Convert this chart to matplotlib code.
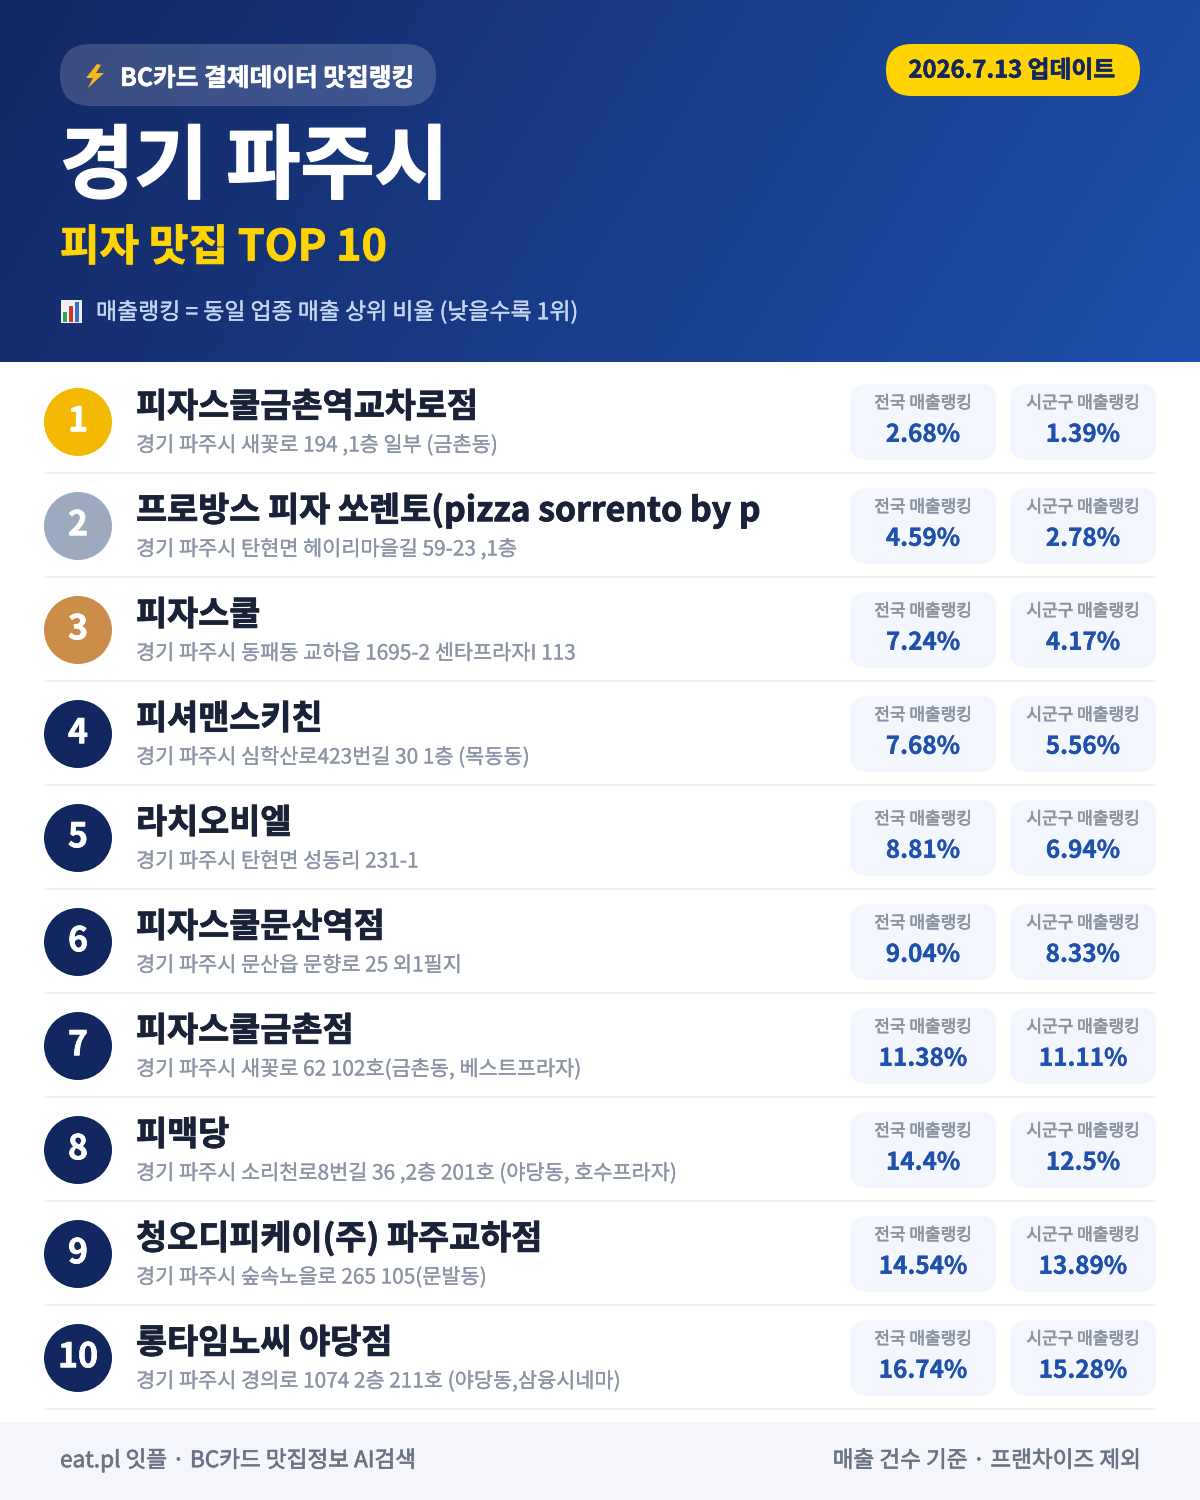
import numpy as np
import matplotlib
matplotlib.use("Agg")
import matplotlib.pyplot as plt
import matplotlib.patheffects as pe
from matplotlib.patches import FancyBboxPatch, Circle, Rectangle, Polygon

plt.rcParams['font.family'] = ['Noto Sans CJK KR', 'DejaVu Sans']

badge_text = "BC카드 결제데이터 맛집랭킹"
update_text = "2026.7.13 업데이트"
title_text = "경기 파주시"
subtitle_text = "피자 맛집 TOP 10"
note_text = "매출랭킹 = 동일 업종 매출 상위 비율 (낮을수록 1위)"
footer_left = "eat.pl 잇플 · BC카드 맛집정보 AI검색"
footer_right = "매출 건수 기준 · 프랜차이즈 제외"
label_nat = "전국 매출랭킹"
label_local = "시군구 매출랭킹"

names = ["피자스쿨금촌역교차로점", "프로방스 피자 쏘렌토(pizza sorrento by p", "피자스쿨", "피셔맨스키친",
         "라치오비엘", "피자스쿨문산역점", "피자스쿨금촌점", "피맥당", "청오디피케이(주) 파주교하점", "롱타임노씨 야당점"]
addresses = ["경기 파주시 새꽃로 194 ,1층 일부 (금촌동)", "경기 파주시 탄현면 헤이리마을길 59-23 ,1층",
             "경기 파주시 동패동 교하읍 1695-2 센타프라자I 113", "경기 파주시 심학산로423번길 30 1층 (목동동)",
             "경기 파주시 탄현면 성동리 231-1", "경기 파주시 문산읍 문향로 25 외1필지",
             "경기 파주시 새꽃로 62 102호(금촌동, 베스트프라자)", "경기 파주시 소리천로8번길 36 ,2층 201호 (야당동, 호수프라자)",
             "경기 파주시 숲속노을로 265 105(문발동)", "경기 파주시 경의로 1074 2층 211호 (야당동,삼융시네마)"]
national = [2.68, 4.59, 7.24, 7.68, 8.81, 9.04, 11.38, 14.4, 14.54, 16.74]
local = [1.39, 2.78, 4.17, 5.56, 6.94, 8.33, 11.11, 12.5, 13.89, 15.28]
ranks = list(range(1, 11))
rank_colors = ["#F2B900", "#9CA9BF", "#CC8C4A"] + ["#12265F"] * 7

W, H = 1200, 1500
fig = plt.figure(figsize=(12, 15), dpi=100)
ax = fig.add_axes([0, 0, 1, 1])
ax.set_xlim(0, W); ax.set_ylim(H, 0); ax.axis('off')

def px(s):
    return s * 0.72

def T(x, y, s, size, color, weight='regular', ha='left', stroke=0):
    t = ax.text(x, y + 0.36 * size, s, fontsize=px(size), color=color, fontweight=weight, ha=ha, va='baseline', zorder=5)
    if stroke:
        t.set_path_effects([pe.withStroke(linewidth=stroke, foreground=color)])

def RR(x0, y0, x1, y1, r, fc, alpha=1, z=2):
    ax.add_patch(FancyBboxPatch((x0 + r, y0 + r), x1 - x0 - 2 * r, y1 - y0 - 2 * r,
                                boxstyle=f"round,pad={r},rounding_size={r}", fc=fc, ec='none', alpha=alpha, zorder=z))

# header gradient
gx, gy = np.meshgrid(np.linspace(0, 1, 300), np.linspace(0, 1, 100))
t = np.clip((gx * 1200 + gy * 362 * 0.6) / (1200 + 362 * 0.6), 0, 1)[..., None]
c0 = np.array([0x13, 0x28, 0x63]) / 255
c1 = np.array([0x1E, 0x50, 0xAC]) / 255
ax.imshow(c0 + (c1 - c0) * t, extent=(0, W, 362, 0), aspect='auto', zorder=1)
ax.set_xlim(0, W); ax.set_ylim(H, 0)

# badge
RR(60, 44, 436, 106, 31, 'white', alpha=0.17)
ax.add_patch(Polygon([(97, 64), (86, 78), (93, 78), (88, 88), (104, 73), (96, 73), (101, 65)],
                     fc='#F5B91E', ec='none', zorder=3))
T(120, 77, badge_text, 24.7, 'white', 'bold', stroke=0.4)
RR(886, 44, 1140, 96, 26, '#FFD400')
T(1012, 69, update_text, 23.8, '#12265F', 'bold', ha='center', stroke=0.4)
T(60, 163, title_text, 80.5, 'white', 'bold', stroke=1.2)
T(60, 245, subtitle_text, 43, '#FFD400', 'bold', stroke=0.6)

# small chart icon
ax.add_patch(Rectangle((61, 300), 21, 23, fc='#EEF1F6', ec='none', zorder=3))
ax.add_patch(Rectangle((63, 312), 4, 10, fc='#2FA84F', ec='none', zorder=4))
ax.add_patch(Rectangle((69, 306), 4, 16, fc='#D9342B', ec='none', zorder=4))
ax.add_patch(Rectangle((75, 302), 4, 20, fc='#3B6FC9', ec='none', zorder=4))
T(96, 311, note_text, 22.9, '#C6D6F2', 'regular', stroke=0.25)

# rows
for i, (rank, name, addr, nat, loc, col) in enumerate(zip(ranks, names, addresses, national, local, rank_colors)):
    dy = 104 * i
    ax.add_patch(Circle((78, 422 + dy), 34, fc=col, ec='none', zorder=2))
    T(78, 419 + dy, str(rank), 34, 'white', 'bold', ha='center', stroke=0.5)
    T(136, 405 + dy, name, 33.8, '#1A2238', 'bold', stroke=0.6)
    T(136, 444 + dy, addr, 20.8, '#8B95A5', 'regular', stroke=0.2)
    RR(850, 384 + dy, 996, 460 + dy, 16, '#F3F6FC')
    RR(1010, 384 + dy, 1156, 460 + dy, 16, '#F3F6FC')
    T(923, 402 + dy, label_nat, 17, '#8B93A1', 'regular', ha='center', stroke=0.45)
    T(1083, 402 + dy, label_local, 17, '#8B93A1', 'regular', ha='center', stroke=0.45)
    T(923, 433 + dy, f"{nat:g}%", 24.3, '#1E50AC', 'bold', ha='center', stroke=0.2)
    T(1083, 433 + dy, f"{loc:g}%", 24.3, '#1E50AC', 'bold', ha='center', stroke=0.2)
    ax.add_patch(Rectangle((44, 472 + dy), 1112, 2, fc='#EEF0F3', ec='none', zorder=2))

# footer
ax.add_patch(Rectangle((0, 1422), W, 78, fc='#F4F6FB', ec='none', zorder=1))
T(60, 1459, footer_left, 22.6, '#6B7485', 'regular', stroke=0.45)
T(1140, 1459, footer_right, 22.6, '#6B7485', 'regular', ha='right', stroke=0.45)

fig.savefig("out.png", dpi=100)
